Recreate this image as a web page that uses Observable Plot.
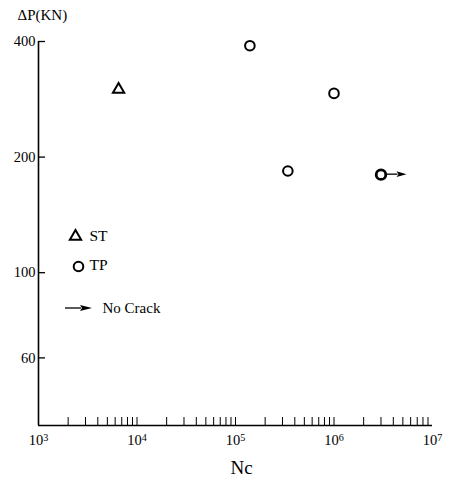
<!DOCTYPE html>
<html><head><meta charset="utf-8">
<script src="https://cdn.jsdelivr.net/npm/d3@7"></script>
<script src="https://cdn.jsdelivr.net/npm/@observablehq/plot@0.6"></script>
<style>body{margin:0;background:#fff;} svg text{font-family:"Liberation Serif","Times New Roman",serif;}</style>
</head><body><div id="chart"></div>
<script>
// ---- data ----
const stNc = [6500];
const stDP = [300];
const tpNc = [1.4e5, 3.4e5, 1.0e6, 3.0e6];
const tpDP = [390, 184, 293, 180];
const tpNoCrack = [false, false, false, true];
// ---- axis ticks ----
const xDecades = [1e3, 1e4, 1e5, 1e6, 1e7];
const xTickExponents = ["3", "4", "5", "6", "7"];
const xMinorTicks = [2e3,3e3,4e3,5e3,6e3,7e3,8e3,9e3,1e4,
  2e4,3e4,4e4,5e4,6e4,7e4,8e4,9e4,1e5,
  2e5,3e5,4e5,5e5,6e5,7e5,8e5,9e5,1e6,
  2e6,3e6,4e6,5e6,6e6,7e6,8e6,9e6];
const yTicks = [60, 100, 200, 400];
const yLabel = "ΔP(KN)";
const xLabel = "Nc";
const legendLabels = ["ST", "TP", "No Crack"];

const st = stNc.map((n, i) => ({Nc: n, dP: stDP[i]}));
const tp = tpNc.map((n, i) => ({Nc: n, dP: tpDP[i], noCrack: tpNoCrack[i]}));

function arrowPath(g, x0, x1, y, head, half) {
  g.append("line").attr("x1", x0).attr("x2", x1 - head + 1).attr("y1", y).attr("y2", y)
    .attr("stroke", "#000").attr("stroke-width", 1.3);
  g.append("path").attr("d", `M${x1},${y}L${x1 - head},${y - half}L${x1 - head + 2},${y}L${x1 - head},${y + half}Z`)
    .attr("fill", "#000");
}

const arrows = (index, scales, values, dims) => {
  const g = d3.create("svg:g");
  tp.filter(d => d.noCrack).forEach(d => {
    const cx = scales.x(d.Nc), cy = scales.y(d.dP);
    arrowPath(g, cx + 6, cx + 26, cy, 10, 2.8);
  });
  // legend arrow
  const lx = dims.marginLeft, ly = dims.marginTop;
  arrowPath(g, lx + 27, lx + 54, ly + 267, 12, 3);
  return g.node();
};

const font = "'Liberation Serif', 'Times New Roman', serif";
const txt = {x: null, y: null, text: d => d, frameAnchor: "top-left", textAnchor: "start", lineAnchor: "middle", fontFamily: font};

const chart = Plot.plot({
  width: 450, height: 482,
  marginLeft: 38, marginRight: 18, marginTop: 41, marginBottom: 57,
  style: `font-family: ${font}; font-size: 14px; background: #fff; color: #000;`,
  x: {type: "log", domain: [1e3, 1e7]},
  y: {type: "log", domain: [40, 400]},
  marks: [
    Plot.ruleX(xMinorTicks, {x: d => d, insetTop: 376, stroke: "#000", strokeWidth: 1}),
    Plot.ruleY(yTicks, {y: d => d, insetRight: 387, stroke: "#000", strokeWidth: 1.3}),
    Plot.ruleX([1e3], {stroke: "#000", strokeWidth: 1.6}),
    Plot.ruleY([40], {stroke: "#000", strokeWidth: 1.6}),
    Plot.axisX({ticks: xDecades, tickSize: 0, tickPadding: 9, label: null,
      tickFormat: d => "10", fontSize: 14.5, fill: "#000", fontFamily: font}),
    Plot.axisY({ticks: yTicks, tickSize: 0, tickPadding: 3, label: null,
      tickFormat: d => String(d), fontSize: 14.5, fill: "#000", fontFamily: font}),
    Plot.dot(st, {x: "Nc", y: "dP", symbol: "triangle", r: 4.2, stroke: "#000", strokeWidth: 2, fill: "none"}),
    Plot.dot(tp.filter(d => !d.noCrack), {x: "Nc", y: "dP", r: 4.8, stroke: "#000", strokeWidth: 2, fill: "none"}),
    Plot.dot(tp.filter(d => d.noCrack), {x: "Nc", y: "dP", r: 4.8, stroke: "#000", strokeWidth: 2.8, fill: "none"}),
    arrows,
    // legend
    Plot.dot([0], {x: null, y: null, frameAnchor: "top-left", dx: 37, dy: 195, symbol: "triangle", r: 4.2, stroke: "#000", strokeWidth: 2, fill: "none"}),
    Plot.dot([0], {x: null, y: null, frameAnchor: "top-left", dx: 40, dy: 225, r: 4.8, stroke: "#000", strokeWidth: 2, fill: "none"}),
    Plot.text([legendLabels[0]], {...txt, dx: 51, dy: 195, fontSize: 15.5}),
    Plot.text([legendLabels[1]], {...txt, dx: 51, dy: 224, fontSize: 15.5}),
    Plot.text([legendLabels[2]], {...txt, dx: 64, dy: 267, fontSize: 15, letterSpacing: "0.4px", wordSpacing: "3px"}),
    // axis titles
    Plot.text([yLabel], {...txt, dx: -21, dy: -26, fontSize: 15}),
    Plot.text([xLabel], {...txt, frameAnchor: "bottom", textAnchor: "middle", dx: 6, dy: 42, fontSize: 19})
  ]
});
// superscript exponents on the decade labels
d3.select(chart).selectAll("g[aria-label='x-axis tick label'] text").each(function(d, i) {
  d3.select(this).append("tspan").attr("dy", "-0.4em").attr("font-size", "0.7em").text(xTickExponents[i]);
});
document.getElementById("chart").appendChild(chart);
</script>
</body></html>
